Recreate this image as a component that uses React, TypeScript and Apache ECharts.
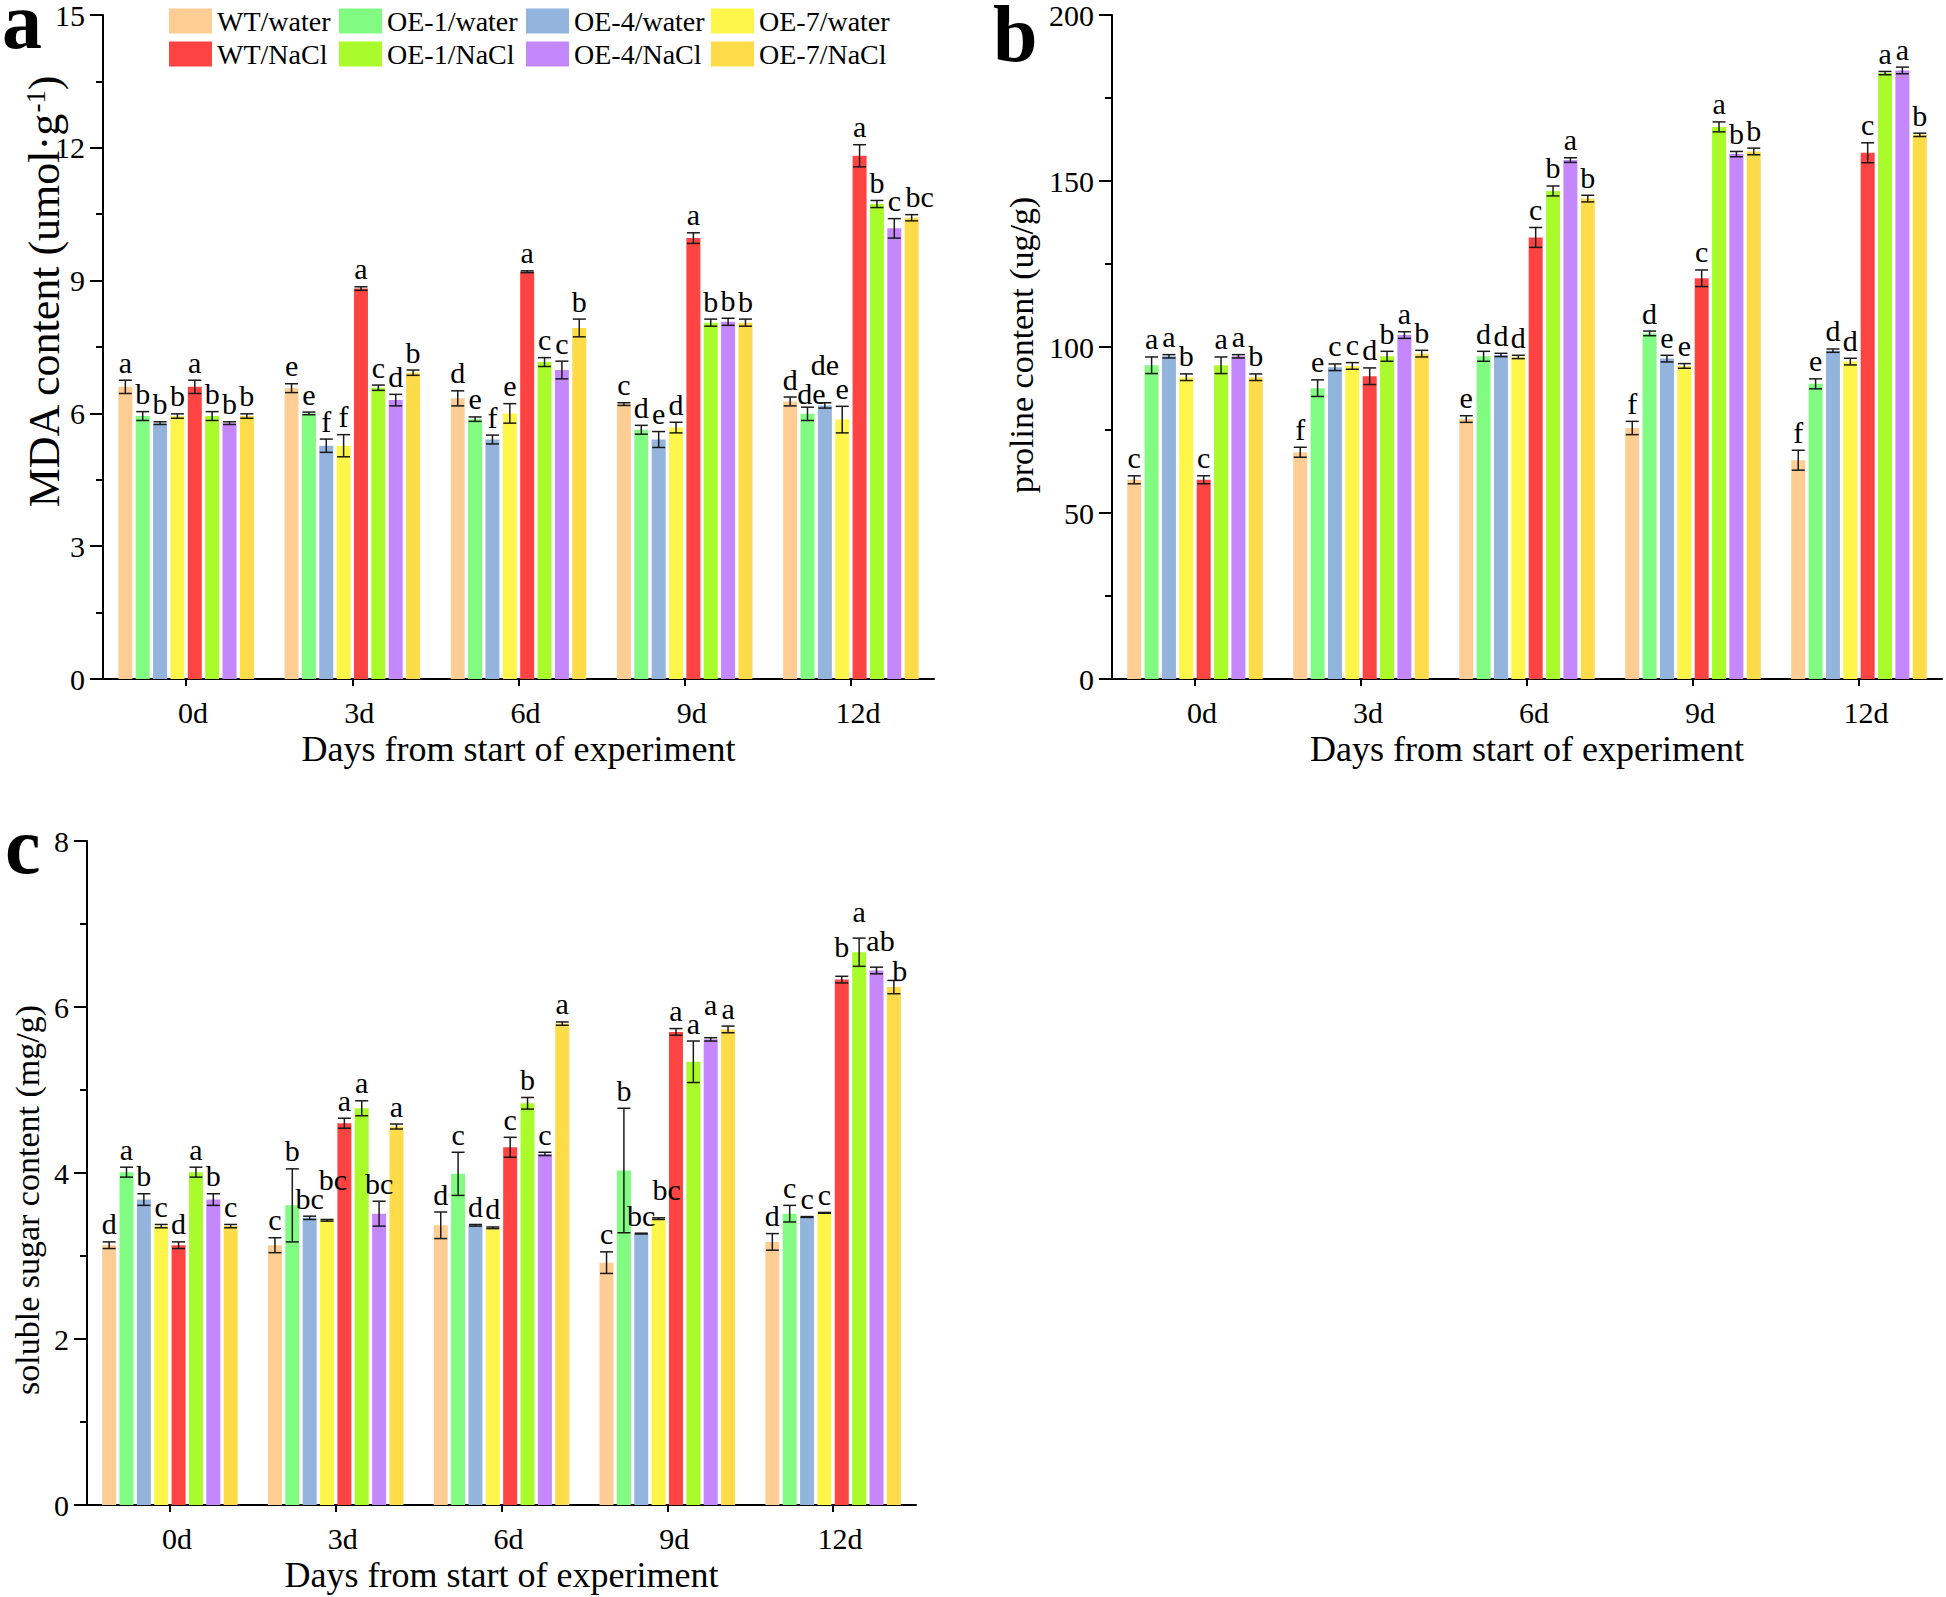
import React, { useEffect, useRef } from "react";
import * as echarts from "echarts";

const FONT = '"Liberation Serif", "Times New Roman", serif';

// ---------- categories & groups ----------
const days = ["0d", "3d", "6d", "9d", "12d"];
const groups = [
  "WT/water", "OE-1/water", "OE-4/water", "OE-7/water",
  "WT/NaCl", "OE-1/NaCl", "OE-4/NaCl", "OE-7/NaCl",
];
const groupColors = [
  "#FDCD93", "#82FB82", "#93B4DC", "#FEF54A",
  "#FE4343", "#AAFB2B", "#C488FC", "#FEDB48",
];

// ---------- panel a: MDA content (umol·g-1); rows = groups, cols = days ----------
const mdaMean = [
  [6.60, 6.57, 6.34, 6.21, 6.27],
  [5.94, 6.00, 5.87, 5.63, 5.99],
  [5.78, 5.27, 5.41, 5.41, 6.18],
  [5.94, 5.27, 6.00, 5.68, 5.86],
  [6.60, 8.82, 9.20, 9.96, 11.82],
  [5.94, 6.58, 7.16, 8.05, 10.73],
  [5.78, 6.30, 6.98, 8.07, 10.18],
  [5.94, 6.92, 7.93, 8.05, 10.42],
];
const mdaErr = [
  [0.15, 0.10, 0.17, 0.03, 0.10],
  [0.10, 0.03, 0.05, 0.10, 0.15],
  [0.03, 0.15, 0.10, 0.18, 0.06],
  [0.05, 0.25, 0.22, 0.12, 0.30],
  [0.15, 0.04, 0.02, 0.12, 0.25],
  [0.10, 0.06, 0.10, 0.08, 0.08],
  [0.03, 0.13, 0.20, 0.08, 0.22],
  [0.05, 0.06, 0.20, 0.08, 0.07],
];
const mdaLetters = [
  ["a", "e", "d", "c", "d"],
  ["b", "e", "e", "d", "de"],
  ["b", "f", "f", "e", "de"],
  ["b", "f", "e", "d", "e"],
  ["a", "a", "a", "a", "a"],
  ["b", "c", "c", "b", "b"],
  ["b", "d", "c", "b", "c"],
  ["b", "b", "b", "b", "bc"],
];

// ---------- panel b: proline content (ug/g) ----------
const prolineMean = [
  [60.0, 68.3, 78.3, 75.6, 65.9],
  [94.5, 87.6, 97.2, 104.1, 88.9],
  [97.2, 93.9, 97.6, 96.5, 98.9],
  [90.9, 94.3, 97.0, 94.3, 95.6],
  [60.0, 91.2, 133.0, 120.7, 158.5],
  [94.5, 97.2, 147.0, 166.3, 182.5],
  [97.2, 103.6, 156.3, 158.1, 183.3],
  [90.9, 98.0, 144.7, 158.9, 163.9],
];
const prolineErr = [
  [1.2, 1.5, 1.0, 2.0, 3.0],
  [2.5, 2.5, 1.5, 0.7, 1.5],
  [0.5, 1.0, 0.5, 1.0, 0.5],
  [1.0, 1.0, 0.5, 0.7, 1.0],
  [1.2, 2.5, 3.0, 2.5, 3.0],
  [2.5, 1.5, 1.5, 1.5, 0.5],
  [0.5, 1.0, 0.7, 0.8, 1.0],
  [1.0, 1.0, 1.0, 1.0, 0.5],
];
const prolineLetters = [
  ["c", "f", "e", "f", "f"],
  ["a", "e", "d", "d", "e"],
  ["a", "c", "d", "e", "d"],
  ["b", "c", "d", "e", "d"],
  ["c", "d", "c", "c", "c"],
  ["a", "b", "b", "a", "a"],
  ["a", "a", "a", "b", "a"],
  ["b", "b", "b", "b", "b"],
];

// ---------- panel c: soluble sugar content (mg/g) ----------
const sugarMean = [
  [3.13, 3.13, 3.37, 2.92, 3.17],
  [4.01, 3.61, 3.99, 4.03, 3.51],
  [3.68, 3.46, 3.37, 3.27, 3.47],
  [3.36, 3.43, 3.34, 3.45, 3.52],
  [3.13, 4.60, 4.31, 5.70, 6.33],
  [4.01, 4.78, 4.84, 5.34, 6.66],
  [3.68, 3.51, 4.23, 5.61, 6.44],
  [3.36, 4.56, 5.80, 5.73, 6.24],
];
const sugarErr = [
  [0.04, 0.09, 0.16, 0.13, 0.10],
  [0.06, 0.44, 0.26, 0.75, 0.10],
  [0.07, 0.02, 0.01, 0.005, 0.005],
  [0.02, 0.01, 0.01, 0.01, 0.005],
  [0.04, 0.06, 0.12, 0.04, 0.04],
  [0.06, 0.09, 0.07, 0.25, 0.17],
  [0.07, 0.15, 0.02, 0.02, 0.04],
  [0.02, 0.03, 0.02, 0.04, 0.08],
];
const sugarLetters = [
  ["d", "c", "d", "c", "d"],
  ["a", "b", "c", "b", "c"],
  ["b", "bc", "d", "bc", "c"],
  ["c", "bc", "d", "bc", "c"],
  ["d", "a", "c", "a", "b"],
  ["a", "a", "b", "a", "a"],
  ["b", "bc", "c", "a", "ab"],
  ["c", "a", "a", "a", "b"],
];

// ---------- layout / style (not data) ----------
const BAR_W = 14;
const BAR_GAP = 0.24;
const PITCH = BAR_W * (1 + BAR_GAP);
const LETTER_SIZE = 30;
// letter nudges: "panel-group-day" -> [dx, dy]
const letterShift: Record<string, [number, number]> = {
  "0-1-4": [4, 4],
  "0-2-4": [0, -20],
  "0-7-4": [8, 0],
  "2-3-1": [6, -22],
  "2-3-3": [8, -10],
  "2-6-3": [0, -15],
  "2-4-4": [0, -12],
  "2-5-4": [0, -9],
  "2-6-4": [4, -9],
  "2-7-4": [6, 8],
};

const panels = [
  {
    letter: "a", lx: 2, ly: 21,
    mean: mdaMean, err: mdaErr, letters: mdaLetters,
    grid: { left: 103, top: 12, width: 831, height: 667 },
    max: 15, interval: 3,
    title: "{n|MDA content (umol·g}{s|-1}{n|)}", tx: 44, ty: 292, tSize: 44,
  },
  {
    letter: "b", lx: 993, ly: 34,
    mean: prolineMean, err: prolineErr, letters: prolineLetters,
    grid: { left: 1112, top: 12, width: 830, height: 667 },
    max: 200, interval: 50,
    title: "{n|proline content (ug/g)}", tx: 1021, ty: 345, tSize: 34,
  },
  {
    letter: "c", lx: 5, ly: 846,
    mean: sugarMean, err: sugarErr, letters: sugarLetters,
    grid: { left: 87, top: 841, width: 829, height: 664 },
    max: 8, interval: 2,
    title: "{n|soluble sugar content (mg/g)}", tx: 27, ty: 1200, tSize: 34,
  },
];

const legendLefts = [164, 334, 521, 706];

export default function App() {
  const ref = useRef<HTMLDivElement>(null);

  useEffect(() => {
    if (!ref.current) return;
    const chart = echarts.init(ref.current, null, { renderer: "svg" });

    const axisLineStyle = { color: "#000", width: 2 };
    const txt = { fontFamily: FONT, color: "#000" };

    const xAxis = panels.map((p, pi) => ({
      type: "category",
      gridIndex: pi,
      data: days,
      axisLine: { show: true, lineStyle: axisLineStyle },
      axisTick: { show: true, alignWithLabel: true, length: 7, lineStyle: axisLineStyle },
      axisLabel: { ...txt, fontSize: 30, margin: 18, padding: [0, 0, 0, 14] },
      splitLine: { show: false },
      name: "Days from start of experiment",
      nameLocation: "middle",
      nameGap: 52,
      nameMoveOverlap: false,
      nameTextStyle: { ...txt, fontSize: 36 },
    }));

    const yAxis = panels.map((p, pi) => ({
      type: "value",
      gridIndex: pi,
      min: 0,
      max: p.max,
      interval: p.interval,
      axisLine: { show: true, lineStyle: axisLineStyle },
      axisTick: { show: true, length: 13, lineStyle: axisLineStyle },
      minorTick: { show: true, splitNumber: 2, length: 7, lineStyle: { color: "#000", width: 2 } },
      splitLine: { show: false },
      minorSplitLine: { show: false },
      axisLabel: { ...txt, fontSize: 30, margin: 18 },
    }));

    const series: any[] = [];
    panels.forEach((p, pi) => {
      groups.forEach((g, k) => {
        series.push({
          type: "bar",
          name: g,
          xAxisIndex: pi,
          yAxisIndex: pi,
          data: p.mean[k],
          barWidth: BAR_W,
          barGap: `${BAR_GAP * 100}%`,
          itemStyle: { color: groupColors[k] },
          z: 2,
        });
      });
      groups.forEach((g, k) => {
        series.push({
          type: "custom",
          name: `err-${pi}-${k}`,
          xAxisIndex: pi,
          yAxisIndex: pi,
          z: 5,
          silent: true,
          clip: false,
          data: p.mean[k].map((v, i) => [i, v, p.err[k][i]]),
          renderItem: (params: any, api: any) => {
            const i = api.value(0);
            const v = api.value(1);
            const e = api.value(2);
            const c = api.coord([i, v]);
            const top = api.coord([i, v + e])[1];
            const bot = api.coord([i, v - e])[1];
            const x = c[0] + (k - 3.5) * PITCH;
            const hw = 6.5;
            const sh = letterShift[`${pi}-${k}-${params.dataIndex}`] || [0, 0];
            const ls = { stroke: "#1a1a1a", lineWidth: 1.5 };
            return {
              type: "group",
              children: [
                { type: "line", shape: { x1: x, y1: top, x2: x, y2: bot }, style: ls },
                { type: "line", shape: { x1: x - hw, y1: top, x2: x + hw, y2: top }, style: ls },
                { type: "line", shape: { x1: x - hw, y1: bot, x2: x + hw, y2: bot }, style: ls },
                {
                  type: "text",
                  x: x + sh[0],
                  y: top - 3 + sh[1],
                  style: {
                    text: p.letters[k][params.dataIndex],
                    fill: "#000",
                    fontSize: LETTER_SIZE,
                    fontFamily: FONT,
                    align: "center",
                    verticalAlign: "bottom",
                  },
                },
              ],
            };
          },
        });
      });
    });

    const legend = legendLefts.map((left, j) => ({
      data: [groups[j], groups[j + 4]],
      orient: "vertical",
      left,
      top: 2,
      itemWidth: 43,
      itemHeight: 25,
      itemGap: 5,
      icon: "rect",
      selectedMode: false,
      textStyle: { fontFamily: FONT, fontSize: 28, color: "#000" },
    }));

    const graphic: any[] = [];
    panels.forEach((p) => {
      graphic.push({
        type: "text",
        x: p.lx,
        y: p.ly,
        style: {
          text: p.letter,
          font: `bold 80px ${FONT}`,
          lineHeight: 40,
          fill: "#000",
          verticalAlign: "middle",
        },
      });
      graphic.push({
        type: "text",
        x: p.tx,
        y: p.ty,
        rotation: Math.PI / 2,
        style: {
          text: p.title,
          align: "center",
          verticalAlign: "middle",
          fill: "#000",
          rich: {
            n: { fontFamily: FONT, fill: "#000", fontSize: p.tSize, verticalAlign: "bottom" },
            s: { fontFamily: FONT, fill: "#000", fontSize: Math.round(p.tSize * 0.62), verticalAlign: "top" },
          },
        },
      });
    });

    chart.setOption({
      animation: false,
      backgroundColor: "#fff",
      grid: panels.map((p) => ({ ...p.grid, containLabel: false })),
      xAxis,
      yAxis,
      legend,
      graphic,
      series,
    });

    return () => chart.dispose();
  }, []);

  return (
    <div
      ref={ref}
      style={{ position: "fixed", left: 0, top: 0, width: 1946, height: 1597, background: "#fff" }}
    />
  );
}
